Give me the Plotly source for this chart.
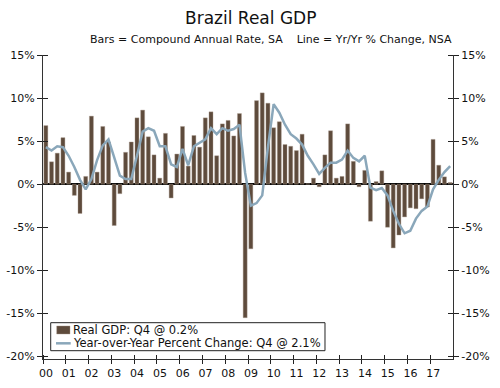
import plotly.graph_objects as go

years = ["00","01","02","03","04","05","06","07","08","09","10","11","12","13","14","15","16","17"]

gdp_qoq = [
    6.8, 2.6, 3.6, 5.4,     # 2000
    1.4, -1.3, -3.4, 0.9,   # 2001
    7.9, 1.4, 6.7, 4.9,     # 2002
    -4.8, -1.1, 3.7, 4.9,   # 2003
    7.7, 8.6, 5.5, 3.4,     # 2004
    0.7, 5.9, -1.6, 3.5,    # 2005
    6.7, 2.1, 5.65, 4.3,    # 2006
    7.7, 8.4, 3.3, 7.0,     # 2007
    7.4, 5.6, 8.2, -15.5,   # 2008
    -7.5, 9.7, 10.6, 9.4,   # 2009
    6.55, 7.25, 4.6, 4.4,   # 2010
    3.9, 5.8, 0.05, 0.7,    # 2011
    -0.3, 3.4, 6.2, 0.7,    # 2012
    0.9, 7.0, 2.65, -0.3,   # 2013
    1.6, -4.3, 0.3, 1.55,   # 2014
    -5.0, -7.4, -5.9, -3.8, # 2015
    -2.75, -2.85, -1.7, -2.65, # 2016
    5.2, 2.2, 0.85, 0.2,    # 2017
]

gdp_yoy = [
    4.3, 3.9, 4.4, 4.3,
    3.3, 2.0, 0.5, -0.6,
    0.6, 2.8, 4.5, 5.2,
    3.1, 1.0, 0.6, 0.6,
    3.3, 6.1, 6.5, 6.2,
    4.4, 4.4, 2.3, 2.0,
    4.1, 2.2, 4.4, 4.8,
    5.2, 6.5, 5.8, 6.5,
    6.2, 6.4, 6.9, 1.3,
    -2.5, -2.2, -1.3, 4.3,
    9.3, 8.3, 6.9, 5.8,
    5.3, 4.6, 3.3, 2.3,
    1.2, 1.9, 2.5, 2.5,
    2.85, 3.9, 3.05, 2.65,
    3.3, -0.4, -0.7, -0.45,
    -1.3, -3.1, -4.6, -5.7,
    -5.4, -4.0, -3.1, -2.6,
    -0.6, 0.5, 1.4, 2.1,
]

y_ticks = [15, 10, 5, 0, -5, -10, -15, -20]

bar_label = "Real GDP: Q4 @ 0.2%"
line_label = "Year-over-Year Percent Change: Q4 @ 2.1%"

quarters = list(range(len(gdp_qoq)))
year_bounds = [4 * k - 0.5 for k in range(len(years) + 1)]
year_text = years + [""]

FONT = "DejaVu Sans"
bar_color = "#5E4B3C"
line_color = "#8AA7BA"

fig = go.Figure()
fig.add_trace(go.Bar(
    x=quarters, y=gdp_qoq, name=bar_label, showlegend=False,
    marker=dict(color=bar_color, line=dict(color="#a89a8e", width=0.4)),
    hoverinfo="skip",
))
fig.add_trace(go.Scatter(
    x=quarters, y=gdp_yoy, mode="lines", name=line_label, showlegend=False,
    line=dict(color=line_color, width=2.5),
    hoverinfo="skip",
))
fig.add_trace(go.Scatter(
    x=quarters, y=gdp_yoy, yaxis="y2", mode="lines", showlegend=False,
    line=dict(width=0, color="rgba(0,0,0,0)"), hoverinfo="skip",
))

axis_font = dict(family=FONT, size=11, color="#111")
yfmt = dict(
    range=[-20.3, 15], tickvals=y_ticks, ticktext=[f"{v}%" for v in y_ticks],
    ticks="outside", ticklen=5, tickcolor="#222", tickwidth=1,
    minor=dict(tickvals=y_ticks, ticks="inside", ticklen=5, tickcolor="#222", showgrid=False),
    showline=True, linecolor="#333", linewidth=1.2,
    showgrid=False, tickfont=axis_font, fixedrange=True, automargin=False,
)

legend_font = dict(family=FONT, size=11.5, color="#111")

fig.update_layout(
    width=500, height=388,
    margin=dict(l=43, r=47, t=55, b=29, autoexpand=False),
    paper_bgcolor="white", plot_bgcolor="white",
    font=dict(family=FONT, size=11, color="#111"),
    bargap=0.3,
    showlegend=False,
    xaxis=dict(
        range=[-0.5, 71.5], tickvals=year_bounds, ticktext=year_text,
        ticks="outside", ticklen=4, tickcolor="#222",
        minor=dict(tickvals=year_bounds, ticks="inside", ticklen=4, tickcolor="#222", showgrid=False),
        ticklabelshift=3, automargin=False,
        showline=True, linecolor="#333", linewidth=1.2,
        showgrid=False, zeroline=False, tickfont=axis_font,
    ),
    yaxis=dict(**yfmt, zeroline=True, zerolinecolor="#000", zerolinewidth=1.5, side="left"),
    yaxis2=dict(**yfmt, overlaying="y", side="right", zeroline=False),
    shapes=[
        # legend box and keys (paper coordinates)
        dict(type="rect", xref="paper", yref="paper", x0=0.0188, x1=0.6878, y0=0.0273, y1=0.1194,
             line=dict(color="#222", width=1), fillcolor="white", layer="above"),
        dict(type="rect", xref="paper", yref="paper", x0=0.0334, x1=0.0659, y0=0.0822, y1=0.1086,
             line=dict(color="#a89a8e", width=0.4), fillcolor=bar_color, layer="above"),
        dict(type="line", xref="paper", yref="paper", x0=0.0317, x1=0.0676, y0=0.0516, y1=0.0516,
             line=dict(color=line_color, width=2.5), layer="above"),
    ],
    annotations=[
        dict(text="Brazil Real GDP", xref="paper", yref="paper", x=0.506, y=1.123,
             xanchor="center", yanchor="middle", showarrow=False,
             font=dict(family=FONT, size=17, color="#111")),
        dict(text="Bars = Compound Annual Rate, SA    Line = Yr/Yr % Change, NSA",
             xref="paper", yref="paper", x=0.557, y=1.05,
             xanchor="center", yanchor="middle", showarrow=False,
             font=dict(family=FONT, size=11, color="#111")),
        dict(text=bar_label, xref="paper", yref="paper", x=0.068, y=0.0954,
             xanchor="left", yanchor="middle", showarrow=False, font=legend_font),
        dict(text=line_label, xref="paper", yref="paper", x=0.068, y=0.0516,
             xanchor="left", yanchor="middle", showarrow=False, font=legend_font),
    ],
)

fig.write_html("out.html", config={"displayModeBar": False},
               post_script="document.body.style.margin='0';")
